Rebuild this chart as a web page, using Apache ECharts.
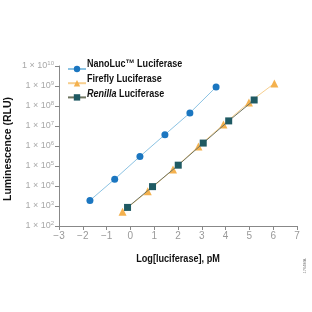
<!DOCTYPE html>
<html>
<head>
<meta charset="utf-8">
<script src="https://cdn.jsdelivr.net/npm/echarts@6/dist/echarts.min.js"></script>
<style>
  html, body { margin: 0; padding: 0; background: #fff; }
  #chart { width: 312px; height: 312px; }
</style>
</head>
<body>
<div id="chart"></div>
<script>
// values (log10 pM on x, RLU on y)
var nanoX = [-1.7, -0.66, 0.4, 1.45, 2.5, 3.6];
var nanoY = [1.9e3, 2.2e4, 3.0e5, 3.7e6, 4.5e7, 8.9e8];
var fireflyX = [-0.33, 0.73, 1.79, 2.86, 3.91, 4.98, 6.05];
var fireflyY = [5.2e2, 5.4e3, 6.6e4, 9.5e5, 1.2e7, 1.5e8, 1.35e9];
var renillaX = [-0.12, 0.93, 2.01, 3.06, 4.13, 5.2];
var renillaY = [8.5e2, 9.3e3, 1.1e5, 1.4e6, 1.8e7, 2.0e8];
var seriesNames = ['NanoLuc™ Luciferase', 'Firefly Luciferase', 'Renilla Luciferase'];

function pairs(xs, ys) {
    return xs.map(function (x, i) { return [x, ys[i]]; });
}

var font = "'Liberation Sans', Arial, sans-serif";
var boldText = { fontFamily: font, fontWeight: 'bold', fontSize: 11, fill: '#111' };

// legend labels drawn as condensed text next to the legend icons
function legendLabel(y, text) {
    return {
        type: 'text',
        x: 87,
        y: y,
        scaleX: 0.82,
        style: Object.assign({
            text: text,
            verticalAlign: 'middle',
            rich: {
                it: { fontFamily: font, fontWeight: 'bold', fontStyle: 'italic', fontSize: 11, fill: '#111' },
                n: { fontFamily: font, fontWeight: 'bold', fontSize: 11, fill: '#111' }
            }
        }, boldText)
    };
}

var chart = echarts.init(document.getElementById('chart'), null, { renderer: 'canvas' });

chart.setOption({
    animation: false,
    backgroundColor: '#fff',
    grid: { left: 59, right: 15, top: 66, bottom: 86 },
    legend: {
        orient: 'vertical',
        left: 62,
        top: 60,
        itemGap: 7,
        itemWidth: 18,
        itemHeight: 8,
        data: seriesNames,
        textStyle: { fontSize: 8 },
        formatter: function () { return ''; }
    },
    xAxis: {
        type: 'value',
        min: -3,
        max: 7,
        interval: 1,
        axisLine: { onZero: false, lineStyle: { color: '#888', width: 1 } },
        axisTick: { show: true, length: 4, lineStyle: { color: '#888' } },
        splitLine: { show: false },
        axisLabel: {
            fontFamily: font,
            fontSize: 10,
            color: '#999',
            margin: 5,
            formatter: function (v) { return String(v).replace('-', '\u2212'); }
        }
    },
    yAxis: {
        type: 'log',
        logBase: 10,
        min: 1e2,
        max: 1e10,
        axisLine: { show: true, onZero: false, lineStyle: { color: '#888', width: 1 } },
        axisTick: { show: true, length: 4, lineStyle: { color: '#888' } },
        splitLine: { show: false },
        axisLabel: {
            fontFamily: font,
            fontSize: 9,
            color: '#a8a8a8',
            margin: 5,
            formatter: function (v) {
                var e = Math.round(Math.log10(v));
                return '1 × 10{s|' + e + '}';
            },
            rich: {
                s: { fontFamily: font, fontSize: 6, color: '#a8a8a8', verticalAlign: 'top', padding: [0, 0, 5, 0] }
            }
        }
    },
    series: [
        {
            name: seriesNames[0],
            type: 'line',
            data: pairs(nanoX, nanoY),
            symbol: 'circle',
            symbolSize: 7,
            lineStyle: { color: '#8cc3e3', width: 1 },
            itemStyle: { color: '#1b76c0' },
            z: 3
        },
        {
            name: seriesNames[1],
            type: 'line',
            data: pairs(fireflyX, fireflyY),
            symbol: 'triangle',
            symbolSize: 8,
            lineStyle: { color: '#f7cf8f', width: 1 },
            itemStyle: { color: '#f4b14e' },
            z: 2
        },
        {
            name: seriesNames[2],
            type: 'line',
            data: pairs(renillaX, renillaY),
            symbol: 'rect',
            symbolSize: 7,
            lineStyle: { color: '#6e7460', width: 1 },
            itemStyle: { color: '#1f5a63' },
            z: 4
        }
    ],
    graphic: [
        legendLabel(64, 'NanoLuc™ Luciferase'),
        legendLabel(79, 'Firefly Luciferase'),
        legendLabel(94, '{it|Renilla}{n| Luciferase}'),
        {
            // x axis title
            type: 'text',
            x: 178,
            y: 259,
            scaleX: 0.83,
            style: Object.assign({ text: 'Log[luciferase], pM', align: 'center', verticalAlign: 'middle' }, boldText)
        },
        {
            // y axis title
            type: 'text',
            x: 8,
            y: 149,
            rotation: Math.PI / 2,
            scaleX: 0.95,
            style: Object.assign({ text: 'Luminescence (RLU)', align: 'center', verticalAlign: 'middle' }, boldText)
        },
        {
            type: 'text',
            x: 305,
            y: 266,
            rotation: Math.PI / 2,
            style: { text: '1764MA', align: 'center', verticalAlign: 'middle', fontFamily: font, fontSize: 4, fill: '#777' }
        }
    ]
});
</script>
</body>
</html>
